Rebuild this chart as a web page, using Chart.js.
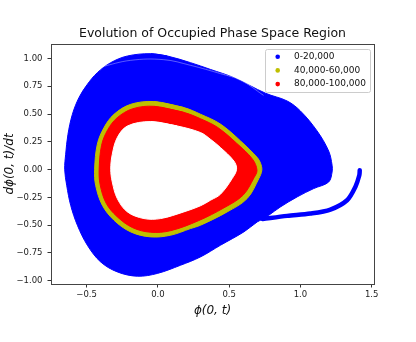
<!DOCTYPE html>
<html>
<head>
<meta charset="utf-8">
<script src="https://cdn.jsdelivr.net/npm/chart.js@4.4.0/dist/chart.umd.min.js"></script>
<style>
    html, body { margin: 0; padding: 0; background: #fff; }
    canvas { display: block; }
</style>
</head>
<body>
<canvas id="phaseChart" width="416" height="342"></canvas>
<script>
// Legend
var seriesLabels = ['0-20,000', '40,000-60,000', '80,000-100,000'];
var seriesColors = ['#0000ff', '#bfbf00', '#ff0000'];

// Region outlines, [phi, dphi/dt]
var earlyOutline = [
    [-0.051, 1.043], [0.066, 1.022], [0.229, 0.962], [0.369, 0.901], [0.533, 0.827],
    [0.755, 0.687], [0.907, 0.617], [1.000, 0.527], [1.117, 0.347], [1.198, 0.167],
    [1.222, 0.039], [1.222, -0.022], [1.198, -0.112], [1.093, -0.171], [0.977, -0.246],
    [0.860, -0.336], [0.778, -0.411], [0.734, -0.447], [0.697, -0.471], [0.603, -0.561],
    [0.439, -0.681], [0.299, -0.786], [0.159, -0.861], [-0.004, -0.935], [-0.144, -0.960],
    [-0.285, -0.921], [-0.402, -0.831], [-0.495, -0.681], [-0.565, -0.501], [-0.612, -0.321],
    [-0.640, -0.141], [-0.654, 0.003], [-0.647, 0.138], [-0.631, 0.317], [-0.600, 0.497],
    [-0.554, 0.647], [-0.495, 0.767], [-0.425, 0.872], [-0.331, 0.962], [-0.214, 1.022]
];
var earlyTail = [
    [0.735, -0.445], [0.907, -0.417], [1.070, -0.396], [1.210, -0.360], [1.327, -0.276],
    [1.385, -0.156], [1.413, -0.051], [1.416, -0.006]
];
var earlyStreak = [
    [-0.401, 0.923], [-0.191, 0.983], [0.040, 0.989], [0.229, 0.938], [0.439, 0.863],
    [0.580, 0.805], [0.741, 0.668]
];
var midOutline = [
    [-0.028, 0.612], [0.182, 0.558], [0.299, 0.498], [0.439, 0.409], [0.580, 0.257],
    [0.697, 0.108], [0.720, 0.057], [0.729, -0.006], [0.708, -0.081], [0.626, -0.261],
    [0.486, -0.381], [0.299, -0.501], [0.229, -0.531], [0.089, -0.591], [-0.051, -0.606],
    [-0.191, -0.561], [-0.308, -0.456], [-0.390, -0.321], [-0.437, -0.141], [-0.444, 0.003],
    [-0.425, 0.228], [-0.378, 0.378], [-0.308, 0.497], [-0.191, 0.587]
];
var lateOutline = [
    [-0.028, 0.569], [0.180, 0.515], [0.299, 0.457], [0.418, 0.380], [0.552, 0.237],
    [0.664, 0.093], [0.695, -0.006], [0.674, -0.074], [0.597, -0.231], [0.464, -0.344],
    [0.285, -0.460], [0.089, -0.550], [-0.051, -0.564], [-0.177, -0.523], [-0.286, -0.424],
    [-0.363, -0.303], [-0.405, -0.137], [-0.412, 0.003], [-0.395, 0.219], [-0.352, 0.358],
    [-0.286, 0.466], [-0.177, 0.547]
];
var lateHole = [
    [-0.051, 0.432], [0.136, 0.392], [0.299, 0.333], [0.369, 0.272], [0.439, 0.198],
    [0.533, 0.077], [0.552, 0.003], [0.521, -0.081], [0.439, -0.222], [0.369, -0.276],
    [0.299, -0.326], [0.182, -0.381], [0.019, -0.441], [-0.098, -0.441], [-0.214, -0.381],
    [-0.285, -0.261], [-0.320, -0.112], [-0.331, 0.003], [-0.320, 0.138], [-0.285, 0.288],
    [-0.214, 0.392]
];

// Axes
var xTicks = [-0.5, 0.0, 0.5, 1.0, 1.5];
var yTicks = [-1.0, -0.75, -0.5, -0.25, 0.0, 0.25, 0.5, 0.75, 1.0];

var toPoints = function (pairs, close) {
    var pts = pairs.map(function (p) { return { x: p[0], y: p[1] }; });
    if (close) {
        // wrap a couple of points so the curve closes smoothly
        pts.push({ x: pairs[0][0], y: pairs[0][1] });
        pts.push({ x: pairs[1][0], y: pairs[1][1] });
    }
    return pts;
};
var fmt = function (v, digits) {
    return (v < 0 ? '\u2212' : '') + Math.abs(v).toFixed(digits);
};
var region = function (pairs, color, order) {
    return {
        data: toPoints(pairs, true),
        showLine: true,
        fill: 'shape',
        backgroundColor: color,
        borderColor: color,
        borderWidth: 1,
        pointRadius: 0,
        tension: 0.35,
        order: order
    };
};

var tail = {
    data: toPoints(earlyTail, false),
    showLine: true,
    fill: false,
    borderColor: seriesColors[0],
    borderWidth: 4.5,
    borderCapStyle: 'round',
    pointRadius: 0,
    tension: 0.3,
    order: 5
};
var streak = {
    data: toPoints(earlyStreak, false),
    showLine: true,
    fill: false,
    borderColor: 'rgba(255,255,255,0.35)',
    borderWidth: 1,
    pointRadius: 0,
    tension: 0.4,
    order: 4
};

var framePlugin = {
    id: 'frame',
    afterDraw: function (chart) {
        var ctx = chart.ctx, a = chart.chartArea;
        ctx.save();
        ctx.strokeStyle = '#444';
        ctx.lineWidth = 1;
        ctx.strokeRect(Math.round(a.left) + 0.5, Math.round(a.top) + 0.5,
            Math.round(a.right - a.left), Math.round(a.bottom - a.top));

        // title
        ctx.fillStyle = '#111';
        ctx.font = '12.5px "DejaVu Sans"';
        ctx.textAlign = 'center';
        ctx.textBaseline = 'middle';
        ctx.fillText('Evolution of Occupied Phase Space Region', (a.left + a.right) / 2, 34);

        // legend
        var bx = 265, by = 49, bw = 105, bh = 43;
        ctx.fillStyle = 'rgba(255,255,255,0.8)';
        ctx.strokeStyle = '#cccccc';
        ctx.beginPath();
        ctx.roundRect(bx + 0.5, by + 0.5, bw, bh, 2);
        ctx.fill();
        ctx.stroke();
        ctx.font = '9px "DejaVu Sans"';
        ctx.textAlign = 'left';
        for (var i = 0; i < seriesLabels.length; i++) {
            var yy = 56.7 + i * 13.7;
            ctx.fillStyle = seriesColors[i];
            ctx.beginPath();
            ctx.arc(277.7, yy, 2.3, 0, Math.PI * 2);
            ctx.fill();
            ctx.fillStyle = '#111';
            ctx.fillText(seriesLabels[i], 294, yy);
        }
        ctx.restore();
    }
};

var canvas = document.getElementById('phaseChart');
var chart = new Chart(canvas.getContext('2d'), {
    type: 'scatter',
    data: {
        datasets: [
            region(earlyOutline, seriesColors[0], 6),
            tail,
            streak,
            region(midOutline, seriesColors[1], 3),
            region(lateOutline, seriesColors[2], 2),
            region(lateHole, '#ffffff', 1)
        ]
    },
    options: {
        responsive: false,
        animation: false,
        devicePixelRatio: 1,
        layout: { padding: { left: 0, right: 42, top: 44, bottom: 0 } },
        plugins: {
            legend: { display: false },
            title: { display: false },
            tooltip: { enabled: false }
        },
        scales: {
            x: {
                type: 'linear',
                min: -0.75,
                max: 1.516,
                afterFit: function (s) { s.height = 58; },
                afterBuildTicks: function (s) {
                    s.ticks = xTicks.map(function (v) { return { value: v }; });
                },
                grid: { drawOnChartArea: false, drawTicks: true, tickLength: 3.5, tickColor: '#333' },
                border: { display: true, color: '#444' },
                ticks: {
                    color: '#222',
                    padding: 2,
                    maxRotation: 0,
                    font: { family: 'DejaVu Sans', size: 8.5 },
                    callback: function (v) { return fmt(v, 1); }
                },
                title: {
                    display: true,
                    text: '\u03d5(0, t)',
                    color: '#111',
                    padding: 23.8,
                    font: { family: 'DejaVu Sans', size: 12, style: 'italic' }
                }
            },
            y: {
                type: 'linear',
                min: -1.03,
                max: 1.13,
                afterFit: function (s) { s.width = 51; },
                afterBuildTicks: function (s) {
                    s.ticks = yTicks.map(function (v) { return { value: v }; });
                },
                grid: { drawOnChartArea: false, drawTicks: true, tickLength: 3.5, tickColor: '#333' },
                border: { display: true, color: '#444' },
                ticks: {
                    color: '#222',
                    padding: 5,
                    font: { family: 'DejaVu Sans', size: 8.5 },
                    callback: function (v) { return fmt(v, 2); }
                },
                title: {
                    display: true,
                    text: 'd\u03d5(0, t)/dt',
                    color: '#111',
                    padding: 2.8,
                    font: { family: 'DejaVu Sans', size: 12, style: 'italic' }
                }
            }
        }
    },
    plugins: [framePlugin]
});
</script>
</body>
</html>
